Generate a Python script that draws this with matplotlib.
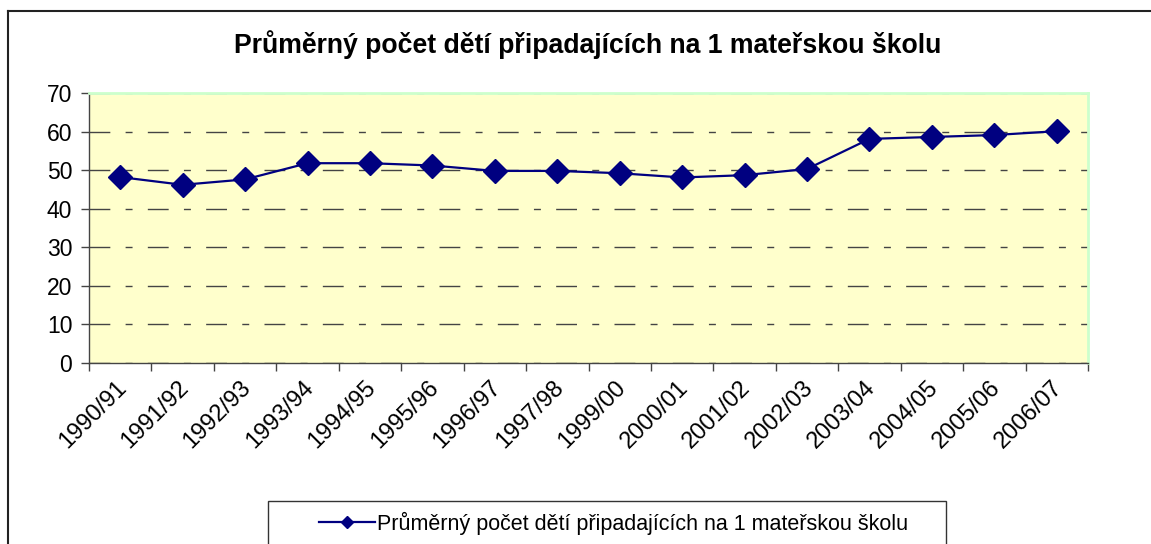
import matplotlib.pyplot as plt
from matplotlib.lines import Line2D
from matplotlib.patches import Rectangle
from matplotlib.transforms import ScaledTranslation

plt.rcParams['font.family'] = ['Liberation Sans', 'DejaVu Sans']
plt.rcParams['lines.scale_dashes'] = False

# -------------------
# Data
# -------------------
roky = ["1990/91", "1991/92", "1992/93", "1993/94", "1994/95", "1995/96",
        "1996/97", "1997/98", "1999/00", "2000/01", "2001/02", "2002/03",
        "2003/04", "2004/05", "2005/06", "2006/07"]
deti = [48.2, 46.2, 47.6, 51.8, 51.8, 51.2, 49.8, 49.8,
        49.2, 48.1, 48.7, 50.3, 58.1, 58.6, 59.1, 60.1]
y_ticks = [0, 10, 20, 30, 40, 50, 60, 70]
nazev = "Průměrný počet dětí připadajících na 1 mateřskou školu"

W, H = 1151, 544

# -------------------
# Figure
# -------------------
fig = plt.figure(figsize=(W / 100, H / 100), dpi=100)

# outer chart frame (only top and left edge are visible)
fig.add_artist(Line2D([8 / W, 8 / W], [0, 1 - 11 / H], transform=fig.transFigure,
                      color="#222222", lw=1.5))
fig.add_artist(Line2D([8 / W, 1], [1 - 11 / H, 1 - 11 / H], transform=fig.transFigure,
                      color="#222222", lw=1.5))

ax = fig.add_axes([89 / W, 1 - 363 / H, (1088 - 89) / W, (363 - 93) / H])
ax.set_facecolor("#FFFFCC")

x = list(range(len(roky)))
ax.plot(x, deti, color="#000080", lw=1.6, marker="D", ms=12, label=nazev, zorder=3)

ax.set_xlim(-0.5, len(roky) - 0.5)
ax.set_ylim(0, 70)
ax.set_yticks(y_ticks)
ax.set_xticks(x)
ax.set_xticklabels(roky, rotation=45, ha="right", rotation_mode="anchor")
ax.set_xticks([i - 0.5 for i in range(len(roky) + 1)], minor=True)

ax.tick_params(axis="x", which="major", length=0, pad=10, labelsize=17)
ax.tick_params(axis="x", which="minor", length=6, width=1, color="#444444")
ax.tick_params(axis="y", length=6, width=1, color="#444444", pad=6, labelsize=16.5)

# shift rotated labels a bit to the left, like Excel does
posun = ScaledTranslation(-5 / 100, 0, fig.dpi_scale_trans)
for lab in ax.get_xticklabels():
    lab.set_transform(lab.get_transform() + posun)

ax.yaxis.grid(True, linestyle=(0, (15, 11, 5, 11)), color="#444444", lw=1)
ax.set_axisbelow(True)

for s in ["left", "bottom"]:
    ax.spines[s].set_color("#444444")
    ax.spines[s].set_linewidth(1)
for s in ["top", "right"]:
    ax.spines[s].set_color("#CCFFCC")
    ax.spines[s].set_linewidth(2)

fig.text(0.511, 1 - 53 / H, nazev, ha="center", va="baseline",
         fontsize=19.2, fontweight="bold")

# -------------------
# Legend (box cut by the bottom edge)
# -------------------
fig.add_artist(Rectangle((268 / W, -0.05), (946 - 268) / W, 1 - 501 / H + 0.05,
                         transform=fig.transFigure, fill=False,
                         edgecolor="#333333", lw=1))
fig.legend(handles=ax.get_lines(), loc="center left",
           bbox_to_anchor=(319 / W, 1 - 523 / H), frameon=False,
           fontsize=15.5, handlelength=2.6, handletextpad=0.1,
           borderpad=0, borderaxespad=0, markerscale=0.55)

plt.savefig("out.png", dpi=100)
